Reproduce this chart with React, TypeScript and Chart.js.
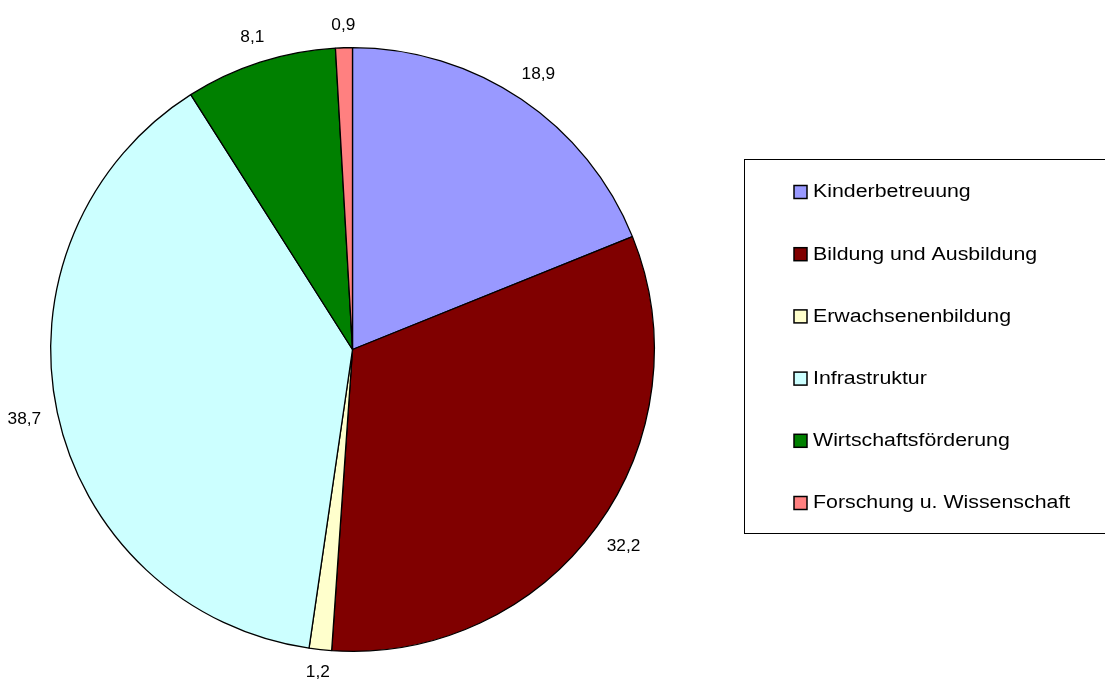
import React, { useEffect, useRef } from "react";
import { Chart, registerables } from "chart.js";

Chart.register(...registerables);

const categories = [
  "Kinderbetreuung",
  "Bildung und Ausbildung",
  "Erwachsenenbildung",
  "Infrastruktur",
  "Wirtschaftsförderung",
  "Forschung u. Wissenschaft",
];
const values = [18.9, 32.2, 1.2, 38.7, 8.1, 0.9];
const valueLabels = ["18,9", "32,2", "1,2", "38,7", "8,1", "0,9"];
const colors = ["#9999FF", "#800000", "#FFFFCC", "#CCFFFF", "#008000", "#FF8080"];

const FONT = '"Liberation Sans", Arial, sans-serif';

function drawScaledText(
  ctx: CanvasRenderingContext2D,
  text: string,
  x: number,
  y: number,
  sizePx: number,
  scaleX: number,
  align: CanvasTextAlign
) {
  ctx.save();
  ctx.font = `${sizePx}px ${FONT}`;
  ctx.textAlign = align;
  ctx.textBaseline = "middle";
  ctx.fillStyle = "#000";
  ctx.translate(x, y);
  ctx.scale(scaleX, 1);
  ctx.fillText(text, 0, 0);
  ctx.restore();
}

const overlayPlugin = {
  id: "overlay",
  afterDraw(chart: any) {
    const ctx: CanvasRenderingContext2D = chart.ctx;
    const meta = chart.getDatasetMeta(0);
    const labelSize = 16;
    const labelScale = 1.08;
    const gap = 16;
    meta.data.forEach((arc: any, i: number) => {
      const p = arc.getProps(["x", "y", "startAngle", "endAngle", "outerRadius"], true);
      const mid = (p.startAngle + p.endAngle) / 2;
      const ux = Math.cos(mid);
      const uy = Math.sin(mid);
      ctx.font = `${labelSize}px ${FONT}`;
      const w = ctx.measureText(valueLabels[i]).width * labelScale;
      const h = 12;
      const extent = Math.abs(ux) * (w / 2) + Math.abs(uy) * (h / 2);
      const d = p.outerRadius + gap + extent;
      drawScaledText(ctx, valueLabels[i], p.x + ux * d, p.y + uy * d, labelSize, labelScale, "center");
    });

    // legend box (its right edge lies beyond the canvas)
    const boxLeft = 744.5;
    const boxTop = 159.5;
    const boxBottom = 533.5;
    ctx.save();
    ctx.strokeStyle = "#000";
    ctx.lineWidth = 1;
    ctx.strokeRect(boxLeft, boxTop, 420, boxBottom - boxTop);
    ctx.restore();

    const firstY = 192;
    const step = 62.2;
    chart.data.labels.forEach((lab: string, i: number) => {
      const cy = firstY + i * step;
      ctx.save();
      ctx.fillStyle = colors[i];
      ctx.fillRect(794, cy - 6.5, 13, 13);
      ctx.strokeStyle = "#000";
      ctx.lineWidth = 1.5;
      ctx.strokeRect(794, cy - 6.5, 13, 13);
      ctx.restore();
      drawScaledText(ctx, lab, 813, cy + 0.5, 18, 1.185, "left");
    });
  },
};

export default function App() {
  const ref = useRef<HTMLCanvasElement | null>(null);
  useEffect(() => {
    if (!ref.current) return;
    const chart = new Chart(ref.current, {
      type: "pie",
      data: {
        labels: categories,
        datasets: [
          {
            data: values,
            backgroundColor: colors,
            borderColor: "#000000",
            borderWidth: 1.3,
          },
        ],
      },
      options: {
        responsive: false,
        animation: false,
        layout: { padding: { left: 50, top: 47, right: 450, bottom: 29 } },
        plugins: {
          legend: { display: false },
          tooltip: { enabled: false },
        },
      },
      plugins: [overlayPlugin],
    });
    return () => chart.destroy();
  }, []);
  return (
    <div style={{ position: "fixed", left: 0, top: 0, width: 1105, height: 681, background: "#fff" }}>
      <canvas ref={ref} width={1105} height={681} style={{ display: "block" }} />
    </div>
  );
}
